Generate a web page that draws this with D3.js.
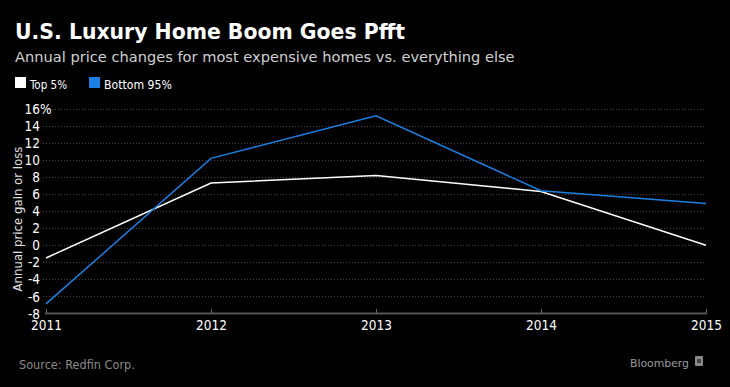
<!DOCTYPE html>
<html><head><meta charset="utf-8">
<script src="https://cdn.jsdelivr.net/npm/d3@7"></script>
<style>
html,body{margin:0;padding:0;background:#000;}
svg{display:block;}
</style></head>
<body>
<script>
const years = [2011, 2012, 2013, 2014, 2015];
const top5 = [-1.5, 7.3, 8.2, 6.3, 0.0];
const bottom95 = [-6.9, 10.2, 15.2, 6.4, 4.9];
const yTicks = [-8, -6, -4, -2, 0, 2, 4, 6, 8, 10, 12, 14, 16];
const seriesNames = ["Top 5%", "Bottom 95%"];
const seriesColors = ["#ffffff", "#1b7fe3"];

const W = 730, H = 387;
const svg = d3.select("body").append("svg").attr("width", W).attr("height", H);
svg.append("rect").attr("width", W).attr("height", H).attr("fill", "#000");

const narrow = "'Liberation Sans Narrow','DejaVu Sans Condensed',sans-serif";
const wide = "'DejaVu Sans',sans-serif";

function fit(sel, width) {
  const n = sel.node();
  const fs = parseFloat(sel.attr("font-size"));
  const w = n.getComputedTextLength();
  if (w > 0) sel.attr("font-size", (fs * width / w).toFixed(2));
  return sel;
}

// Title & subtitle
fit(svg.append("text").attr("x", 15).attr("y", 39).attr("fill", "#fff")
  .attr("font-family", wide).attr("font-weight", "bold").attr("font-size", 18)
  .text("U.S. Luxury Home Boom Goes Pfft"), 390);
fit(svg.append("text").attr("x", 15).attr("y", 62).attr("fill", "#d0d0d0")
  .attr("font-family", wide).attr("font-size", 15)
  .text("Annual price changes for most expensive homes vs. everything else"), 500);

// Legend
const legendX = [15, 89], legendW = [37, 68];
seriesNames.forEach((s, i) => {
  svg.append("rect").attr("x", legendX[i]).attr("y", 77).attr("width", 11).attr("height", 11)
    .attr("fill", seriesColors[i]);
  fit(svg.append("text").attr("x", legendX[i] + 15).attr("y", 89).attr("fill", "#fff")
    .attr("font-family", narrow).attr("font-size", 13).text(s), legendW[i]);
});

// Scales
const x = d3.scaleLinear().domain([2011, 2015]).range([46, 706]);
const y = d3.scaleLinear().domain([-8, 16]).range([313.3, 109]);

// Gridlines
const grid = svg.append("g");
yTicks.filter(t => t > -8).forEach(t => {
  grid.append("line").attr("x1", 43).attr("x2", 706)
    .attr("y1", Math.round(y(t)) + 0.5).attr("y2", Math.round(y(t)) + 0.5)
    .attr("stroke", "#444").attr("stroke-width", 1).attr("stroke-dasharray", "1,2");
});

// Y axis labels
const yAxis = d3.axisLeft(y).tickValues(yTicks).tickSize(0).tickPadding(0)
  .tickFormat(d => d);
const gy = svg.append("g").attr("transform", "translate(40,0)").call(yAxis);
gy.select(".domain").remove();
gy.selectAll("text").attr("fill", "#fff").attr("font-family", narrow).attr("font-size", 13.5)
  .attr("dy", "0.35em").attr("x", 0).attr("text-anchor", "end");
svg.append("text").attr("x", 40).attr("y", y(16)).attr("dy", "0.35em").attr("fill", "#fff")
  .attr("font-family", narrow).attr("font-size", 13.5).text("%");

// Y axis title
fit(svg.append("text").attr("transform", `translate(22,${219}) rotate(-90)`)
  .attr("text-anchor", "middle").attr("fill", "#e0e0e0")
  .attr("font-family", narrow).attr("font-size", 14)
  .text("Annual price gain or loss"), 145);

// X axis
const xAxis = d3.axisBottom(x).tickValues(years).tickFormat(d3.format("d")).tickSize(0).tickPadding(0);
const gx = svg.append("g").attr("transform", "translate(0,313)").call(xAxis);
gx.select(".domain").remove();
gx.selectAll("text").attr("fill", "#fff").attr("font-family", narrow).attr("font-size", 13.5)
  .attr("y", 17).attr("dy", 0);
svg.append("line").attr("x1", 45).attr("x2", 707).attr("y1", 313.5).attr("y2", 313.5)
  .attr("stroke", "#555").attr("stroke-width", 2);
years.forEach(yr => {
  svg.append("line").attr("x1", Math.round(x(yr)) + 0.5).attr("x2", Math.round(x(yr)) + 0.5)
    .attr("y1", 309).attr("y2", 313).attr("stroke", "#666").attr("stroke-width", 1);
});

// Lines
const line = d3.line().x((d, i) => x(years[i])).y(d => y(d));
[top5, bottom95].forEach((vals, i) => {
  svg.append("path").datum(vals).attr("d", line).attr("fill", "none")
    .attr("stroke", seriesColors[i]).attr("stroke-width", 1.5);
});

// Footer
fit(svg.append("text").attr("x", 19).attr("y", 369).attr("fill", "#8a8a8a")
  .attr("font-family", narrow).attr("font-size", 14).text("Source: Redfin Corp."), 116);
fit(svg.append("text").attr("x", 630).attr("y", 367).attr("fill", "#9a9a9a")
  .attr("font-family", wide).attr("font-size", 12).text("Bloomberg"), 59);
svg.append("rect").attr("x", 695).attr("y", 356).attr("width", 8).attr("height", 10)
  .attr("rx", 1).attr("fill", "#8a8a8a");
svg.append("rect").attr("x", 697).attr("y", 359).attr("width", 4).attr("height", 4)
  .attr("fill", "#444");
</script>
</body></html>
